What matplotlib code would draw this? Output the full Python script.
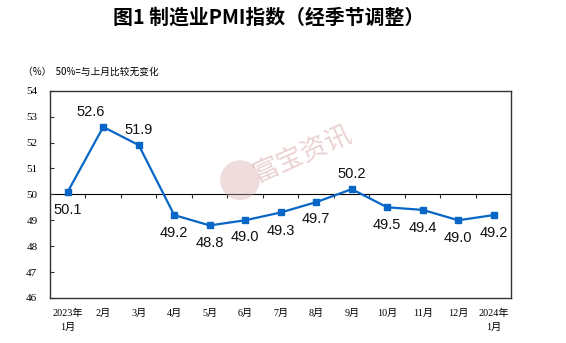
import numpy as np
import matplotlib.pyplot as plt
from matplotlib.patches import Ellipse

plt.rcParams['font.family'] = ['Liberation Sans', 'Noto Sans CJK SC']

months = ['2023年\n1月', '2月', '3月', '4月', '5月', '6月', '7月',
          '8月', '9月', '10月', '11月', '12月', '2024年\n1月']
pmi = [50.1, 52.6, 51.9, 49.2, 48.8, 49.0, 49.3, 49.7, 50.2, 49.5, 49.4, 49.0, 49.2]
# label offsets in points (dx, dy)
label_offsets = [(0, -13), (-9, 11), (0, 11), (0, -13), (0, -13), (0, -12), (0, -13),
                 (0, -12), (0, 11), (0, -13), (0, -13), (0, -13), (0, -13)]
yticks = [46, 47, 48, 49, 50, 51, 52, 53, 54]

blue = '#0866c6'

fig = plt.figure(figsize=(5.66, 3.43), dpi=100)
ax = fig.add_axes([0.0883, 0.1312, 0.8154, 0.6044])

x = np.arange(len(months))
ax.plot(x, pmi, color=blue, lw=1.6, marker='s', ms=5, zorder=3)

for xi, v, (dx, dy) in zip(x, pmi, label_offsets):
    ax.annotate(f'{v:.1f}', (xi, v), xytext=(dx, dy), textcoords='offset points',
                ha='center', va='center', fontsize=10.5, color='#111111',
                family='Liberation Sans')

ax.set_xlim(-0.5, len(months) - 0.5)
ax.set_ylim(46, 54)
ax.set_yticks(yticks)
ax.set_yticklabels([str(t) for t in yticks], family='Liberation Serif', fontsize=8)
ax.tick_params(axis='y', direction='in', length=3, pad=9, color='#333333')
ax.set_xticks(x)
ax.set_xticklabels(months, fontsize=7.3, family=['Liberation Serif', 'Noto Sans CJK SC'],
                   linespacing=1.6)
ax.tick_params(axis='x', length=0, pad=8)
for s in ax.spines.values():
    s.set_color('#333333')
    s.set_linewidth(1.0)

# 50 baseline with tick marks between months
sec = ax.secondary_xaxis(0.5)
sec.set_xticks(np.arange(0.5, len(months) - 1, 1.0))
sec.set_xticklabels([])
sec.tick_params(direction='in', length=3, color='#333333')
sec.spines['bottom'].set_color('#333333')
sec.spines['bottom'].set_linewidth(1.0)

# watermark
fig.text(0.535, 0.55, '富宝资讯', fontsize=19, color='#dcb4b4', alpha=0.6,
         rotation=24, ha='center', va='center', family='Noto Sans CJK SC')
fig.patches.append(Ellipse((0.424, 0.475), 0.07, 0.116, transform=fig.transFigure,
                           facecolor='#d9a9a9', alpha=0.4, edgecolor='none', zorder=0))

fig.text(0.474, 0.95, '图1 制造业PMI指数（经季节调整）', ha='center', va='center',
         fontsize=14.3, fontweight='bold', family='Noto Sans CJK SC')
fig.text(0.04, 0.79, '（%）  50%=与上月比较无变化', ha='left', va='center',
         fontsize=7, family='Noto Sans CJK SC')

fig.savefig('out.png', dpi=100)
